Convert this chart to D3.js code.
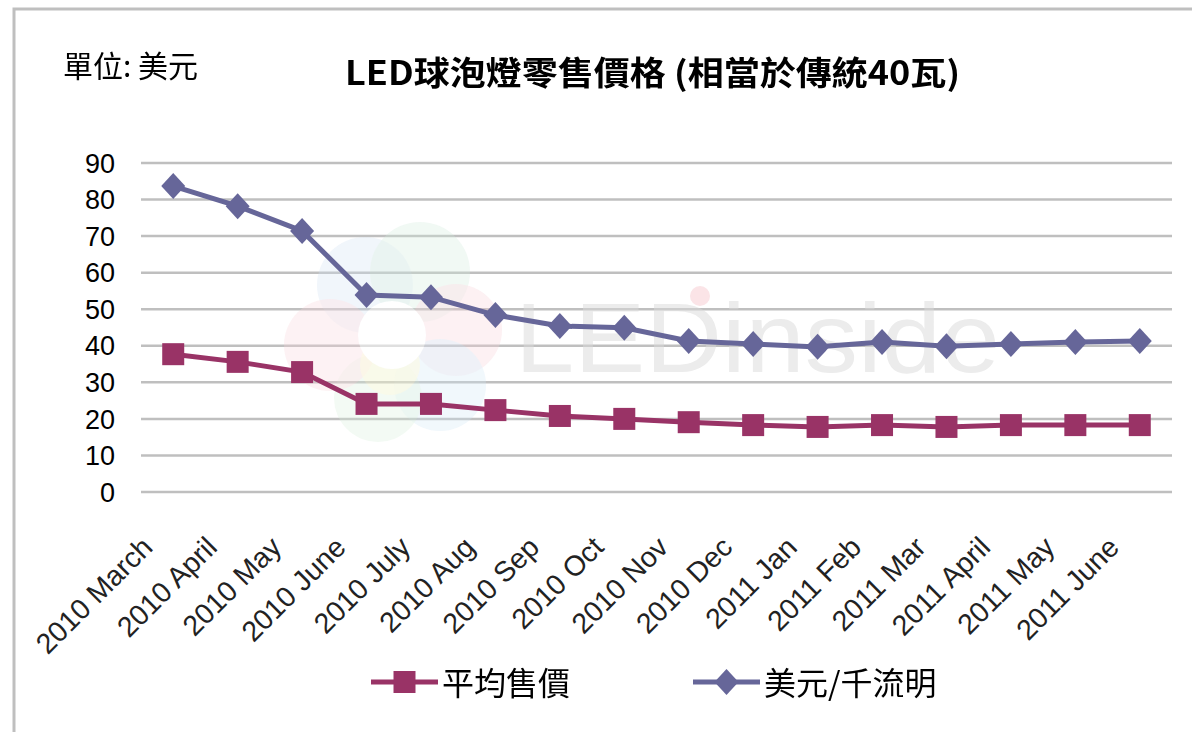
<!DOCTYPE html>
<html>
<head>
<meta charset="utf-8">
<script src="https://cdn.jsdelivr.net/npm/d3@7"></script>
<style>
  body { margin: 0; background: #fff; }
  svg { display: block; }
</style>
</head>
<body>
<div id="chart"></div>
<script>
// data
var months = ["2010 March", "2010 April", "2010 May", "2010 June", "2010 July", "2010 Aug",
              "2010 Sep", "2010 Oct", "2010 Nov", "2010 Dec", "2011 Jan", "2011 Feb",
              "2011 Mar", "2011 April", "2011 May", "2011 June"];
var avgPrice = [37.7, 35.6, 32.8, 24.1, 24.1, 22.4, 20.8, 20.0, 19.1, 18.3, 17.8, 18.3, 17.8, 18.3, 18.3, 18.3];
var perKlm   = [83.7, 78.2, 71.4, 53.9, 53.3, 48.4, 45.4, 44.9, 41.3, 40.5, 39.7, 41.0, 39.9, 40.5, 41.0, 41.3];
var yTicks = [0, 10, 20, 30, 40, 50, 60, 70, 80, 90];
var seriesNames = ["平均售價", "美元/千流明"];
var title = "LED球泡燈零售價格 (相當於傳統40瓦)";
var unitLabel = "單位: 美元";

var W = 1192, H = 732;
var plotLeft = 141, plotRight = 1172, plotTop = 163, plotBottom = 492;
var red = "#993366", blue = "#666699";
var cjk = "'Noto Sans CJK TC', 'Noto Sans CJK SC', sans-serif";
var latin = "'Liberation Sans', Arial, sans-serif";

var svg = d3.select("#chart").append("svg")
    .attr("width", W)
    .attr("height", H);

svg.append("rect").attr("width", W).attr("height", H).attr("fill", "#fff");

// chart area border (only top + left visible)
svg.append("rect")
    .attr("x", 14).attr("y", 9)
    .attr("width", 1300).attr("height", 900)
    .attr("fill", "none")
    .attr("stroke", "#bfbfbf")
    .attr("stroke-width", 3);

var x = d3.scalePoint().domain(months).range([plotLeft, plotRight]).padding(0.5);
var y = d3.scaleLinear().domain([0, 90]).range([plotBottom, plotTop]);

// gridlines
svg.append("g").selectAll("line")
    .data(yTicks)
  .enter().append("line")
    .attr("x1", plotLeft).attr("x2", plotRight)
    .attr("y1", function(d) { return y(d); })
    .attr("y2", function(d) { return y(d); })
    .attr("stroke", "#bfbfbf")
    .attr("stroke-width", 2.5);

// watermark (faint LEDinside logo)
var wm = svg.append("g").attr("opacity", 0.5);
var petals = [
  {cx: 365, cy: 285, r: 48, c: "#cfe0f2"},
  {cx: 420, cy: 272, r: 50, c: "#cfeadb"},
  {cx: 456, cy: 330, r: 46, c: "#f7cfd6"},
  {cx: 440, cy: 385, r: 46, c: "#cfe6f5"},
  {cx: 378, cy: 398, r: 44, c: "#d6efd9"},
  {cx: 330, cy: 345, r: 46, c: "#f8d3d8"},
  {cx: 390, cy: 365, r: 30, c: "#fbf5c8"}
];
wm.selectAll("circle.petal")
    .data(petals)
  .enter().append("circle")
    .attr("cx", function(d) { return d.cx; })
    .attr("cy", function(d) { return d.cy; })
    .attr("r", function(d) { return d.r; })
    .attr("fill", function(d) { return d.c; })
    .attr("opacity", 0.6);
wm.append("circle").attr("cx", 392).attr("cy", 335).attr("r", 34).attr("fill", "#fff");
wm.append("text")
    .attr("x", 515).attr("y", 372)
    .attr("font-family", latin)
    .attr("font-size", 98)
    .attr("textLength", 485)
    .attr("lengthAdjust", "spacingAndGlyphs")
    .attr("fill", "#d8d8d8")
    .text("LEDinside");
wm.append("circle").attr("cx", 700).attr("cy", 296).attr("r", 10).attr("fill", "#f6c9cf");

// y tick labels
svg.append("g").selectAll("text")
    .data(yTicks)
  .enter().append("text")
    .attr("x", 115)
    .attr("y", function(d) { return y(d); })
    .attr("dy", "0.36em")
    .attr("text-anchor", "end")
    .attr("font-family", latin)
    .attr("font-size", 27)
    .attr("fill", "#000")
    .text(function(d) { return d; });

// x labels rotated
svg.append("g").selectAll("text")
    .data(months)
  .enter().append("text")
    .attr("transform", function(d) { return "translate(" + (x(d) - 19) + ",549) rotate(-45)"; })
    .attr("text-anchor", "end")
    .attr("font-family", latin)
    .attr("font-size", 28.5)
    .attr("fill", "#222")
    .text(function(d) { return d; });

var line = d3.line()
    .x(function(d, i) { return x(months[i]); })
    .y(function(d) { return y(d); });

var diamond = "M0,-13L12,0L0,13L-12,0Z";

// 美元/千流明 series
svg.append("path")
    .datum(perKlm)
    .attr("d", line)
    .attr("fill", "none")
    .attr("stroke", blue)
    .attr("stroke-width", 5);
svg.append("g").selectAll("path")
    .data(perKlm)
  .enter().append("path")
    .attr("d", diamond)
    .attr("transform", function(d, i) { return "translate(" + x(months[i]) + "," + y(d) + ")"; })
    .attr("fill", blue);

// 平均售價 series
svg.append("path")
    .datum(avgPrice)
    .attr("d", line)
    .attr("fill", "none")
    .attr("stroke", red)
    .attr("stroke-width", 5);
svg.append("g").selectAll("rect")
    .data(avgPrice)
  .enter().append("rect")
    .attr("x", function(d, i) { return x(months[i]) - 11; })
    .attr("y", function(d) { return y(d) - 11; })
    .attr("width", 22).attr("height", 22)
    .attr("fill", red);

// titles
svg.append("text")
    .attr("x", 63).attr("y", 77)
    .attr("font-family", cjk)
    .attr("font-size", 30)
    .attr("fill", "#000")
    .text(unitLabel);

svg.append("text")
    .attr("x", 345).attr("y", 85)
    .attr("font-family", cjk)
    .attr("font-weight", "bold")
    .attr("font-size", 33)
    .attr("textLength", 615)
    .attr("lengthAdjust", "spacingAndGlyphs")
    .attr("fill", "#000")
    .text(title);

// legend
var legend = [
  {name: seriesNames[0], color: red, x1: 371, x2: 438, tx: 442, shape: "square"},
  {name: seriesNames[1], color: blue, x1: 693, x2: 760, tx: 764, shape: "diamond"}
];
var lg = svg.append("g").selectAll("g")
    .data(legend)
  .enter().append("g");
lg.append("line")
    .attr("x1", function(d) { return d.x1; })
    .attr("x2", function(d) { return d.x2; })
    .attr("y1", 682).attr("y2", 682)
    .attr("stroke", function(d) { return d.color; })
    .attr("stroke-width", 5);
lg.append("path")
    .attr("d", function(d) { return d.shape === "square" ? "M-11,-11H11V11H-11Z" : diamond; })
    .attr("transform", function(d) { return "translate(" + ((d.x1 + d.x2) / 2) + ",682)"; })
    .attr("fill", function(d) { return d.color; });
lg.append("text")
    .attr("x", function(d) { return d.tx; })
    .attr("y", 695)
    .attr("font-family", cjk)
    .attr("font-size", 32)
    .attr("fill", "#000")
    .text(function(d) { return d.name; });
</script>
</body>
</html>
